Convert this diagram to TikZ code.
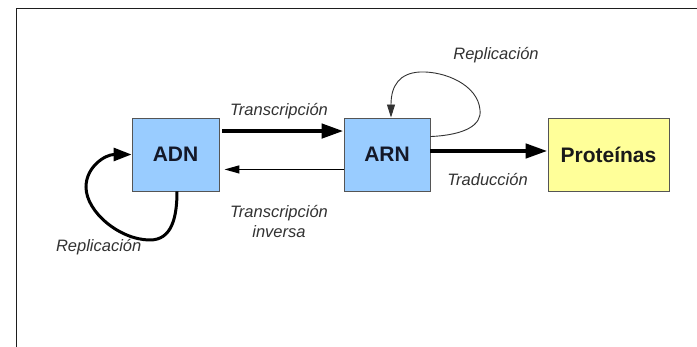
\documentclass[tikz,border=0pt]{standalone}
\usepackage{fontspec}
\setmainfont{Liberation Sans}
\usetikzlibrary{arrows.meta}

\definecolor{boxblue}{RGB}{153,204,255}
\definecolor{boxyellow}{RGB}{255,255,153}
\definecolor{edgegray}{RGB}{85,85,85}
\definecolor{labelgray}{RGB}{50,50,50}
\definecolor{inkblue}{RGB}{20,24,40}
\definecolor{framegray}{RGB}{30,30,30}

\begin{document}
\begin{tikzpicture}[x=1pt,y=1pt,
  molbox/.style={draw=edgegray, line width=0.9pt, minimum height=73pt,
    inner sep=0pt, font=\fontsize{21}{24}\selectfont\bfseries, text=inkblue},
  proclabel/.style={font=\fontsize{16.5}{20}\selectfont\itshape, text=labelgray,
    align=center, inner sep=0pt},
  bigarrow/.style={line width=4.5pt, -{Triangle[length=22pt,width=14pt]}},
  thinarrow/.style={line width=1.3pt, -{Triangle[length=15pt,width=8pt]}},
  selfloop/.style={line width=3pt, -{Triangle[length=18pt,width=13pt]}},
  lightloop/.style={line width=0.9pt, draw=labelgray,
    -{Triangle[length=13pt,width=8pt]}}
]
\useasboundingbox (0,0) rectangle (697,347);
\fill[white] (0,0) rectangle (697,347);

% open frame: left and top edges only
\coordinate (fbl) at (16.5,0);
\coordinate (ftl) at (16.5,338.3);
\coordinate (ftr) at (697,338.3);
\draw[framegray, line width=1.5pt] (fbl) -- (ftl) -- (ftr);

% molecules
\node[molbox, fill=boxblue, minimum width=87pt] (adn) at (175.5,192.5) {ADN};
\node[molbox, fill=boxblue, minimum width=86pt] (arn) at (387,192.5) {ARN};
\node[molbox, fill=boxyellow, minimum width=121pt, text=black!90] (prot) at (608.5,192.5) {Proteínas};

% processes between molecules
\draw[bigarrow] ([xshift=3pt,yshift=-13.5pt]adn.north east) -- ([yshift=-13.5pt]arn.north west);
\draw[thinarrow] ([yshift=22pt]arn.south west) -- ([xshift=5pt,yshift=22pt]adn.south east);
\draw[bigarrow] ([yshift=3.5pt]arn.east) -- ([yshift=3.5pt]prot.west);

% replication loops
\draw[selfloop] ([xshift=1.5pt]adn.south)
  .. controls (177,130) and (172,107) .. (150,107)
  .. controls (120,107) and (86,135) .. (86,160)
  .. controls (86,180) and (105,192.5) .. (adn.west);

\draw[lightloop] ([yshift=-19pt]arn.north east)
  .. controls (465,212) and (482,222) .. (480,237)
  .. controls (478,262) and (445,276) .. (420,275)
  .. controls (400,274) and (391,262) .. ([xshift=4pt]arn.north);

% process labels
\node[proclabel] (ltrans) at (279,236) {Transcripción};
\node[proclabel] (linv) at (279,125) {Transcripción\\inversa};
\node[proclabel] (ltrad) at (487.5,167) {Traducción};
\node[proclabel] (lrepa) at (496,292) {Replicación};
\node[proclabel] (lrepb) at (98.7,100) {Replicación};
\end{tikzpicture}
\end{document}
